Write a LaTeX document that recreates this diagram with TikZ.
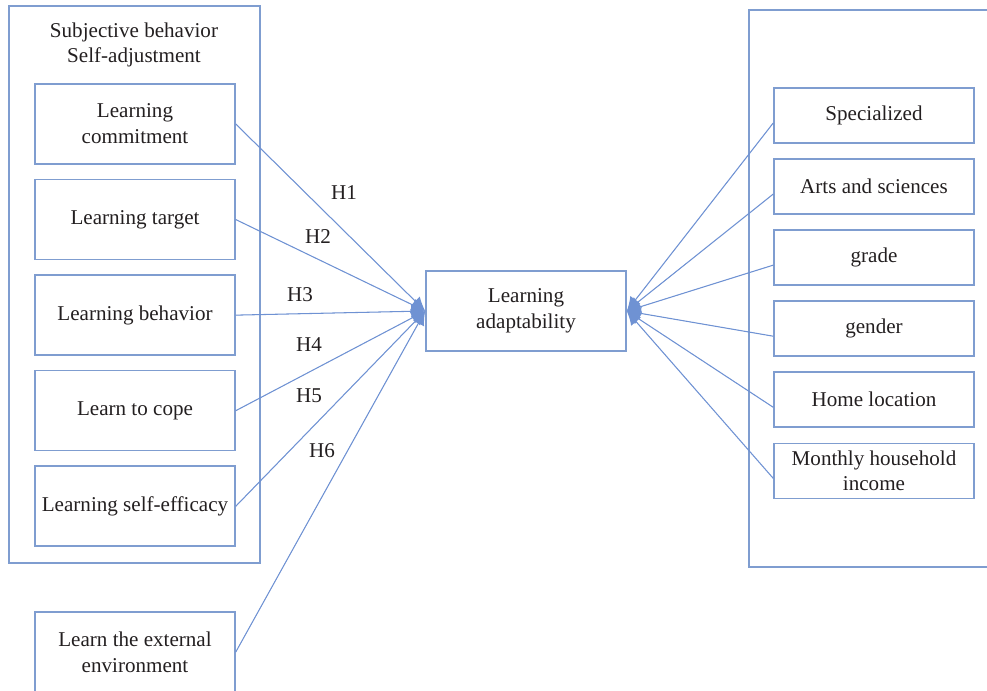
\documentclass[tikz,border=0pt]{standalone}
\usepackage{fontspec}
\setmainfont{Liberation Serif}
\usepackage{tikz}
\usetikzlibrary{arrows.meta, positioning}
\definecolor{boxBlue}{HTML}{7F9DD0}
\definecolor{lineBlue}{HTML}{6F92D3}
\definecolor{textDark}{HTML}{231F20}

\begin{document}
\begin{tikzpicture}[
    x=0.02cm, y=-0.02cm,
    node distance=0.28cm,
    every node/.style={font=\fontsize{12}{14.7}\selectfont, text=textDark,
                       align=center},
    factor/.style={draw=boxBlue, line width=0.9pt,
                   minimum width=4cm, minimum height=1.6cm,
                   inner sep=2pt},
    control/.style={draw=boxBlue, line width=0.9pt,
                    minimum width=4cm, minimum height=1.1cm,
                    inner sep=2pt},
    group/.style={draw=boxBlue, line width=0.9pt},
    arrow/.style={draw=lineBlue, line width=0.6pt,
                  -{Latex[length=2.8mm, width=2.6mm]}, fill=lineBlue},
    hlabel/.style={inner sep=1pt},
]
\useasboundingbox (0,0) rectangle (987,690);
\clip (0,0) rectangle (987,690);

% Group frames
\draw[group] (9,6) rectangle (260,563);
\draw[group] (1000,10) -| (749,567) -- (1000,567);
\node (subj) at (134,45) {Subjective behavior\\Self-adjustment};

% Left column
\node[factor] (commit) at (135,124) {Learning\\commitment};
\node[factor, below=of commit] (target) {Learning target};
\node[factor, below=of target] (behav) {Learning behavior};
\node[factor, below=of behav] (cope) {Learn to cope};
\node[factor, below=of cope] (effic) {Learning self-efficacy};
\node[factor] (extenv) at (135,652) {Learn the external\\environment};

% Centre
\node[factor] (adapt) at (526,311) {Learning\\adaptability};

% Right column
\node[control] (spec) at (874,115.5) {Specialized};
\node[control, below=0.29cm of spec] (arts) {Arts and sciences};
\node[control, below=0.29cm of arts] (grade) {grade};
\node[control, below=0.29cm of grade] (gender) {gender};
\node[control, below=0.29cm of gender] (home) {Home location};
\node[control, below=0.29cm of home] (income) {Monthly household\\income};

% Arrows
\draw[arrow] (commit.east) -- (adapt.west);
\draw[arrow] (target.east) -- (adapt.west);
\draw[arrow] (behav.east) -- (adapt.west);
\draw[arrow] (cope.east) -- (adapt.west);
\draw[arrow] (effic.east) -- (adapt.west);
\draw[arrow] (extenv.east) -- (adapt.west);
\foreach \src in {spec, arts, grade, gender, home, income}
    \draw[arrow] ([yshift=-0.15cm]\src.west) -- (adapt.east);

% Hypotheses
\node[hlabel] (h1) at (344,193) {H1};
\node[hlabel] (h2) at (318,237) {H2};
\node[hlabel] (h3) at (300,295) {H3};
\node[hlabel] (h4) at (309,345) {H4};
\node[hlabel] (h5) at (309,396) {H5};
\node[hlabel] (h6) at (322,451) {H6};
\end{tikzpicture}
\end{document}
